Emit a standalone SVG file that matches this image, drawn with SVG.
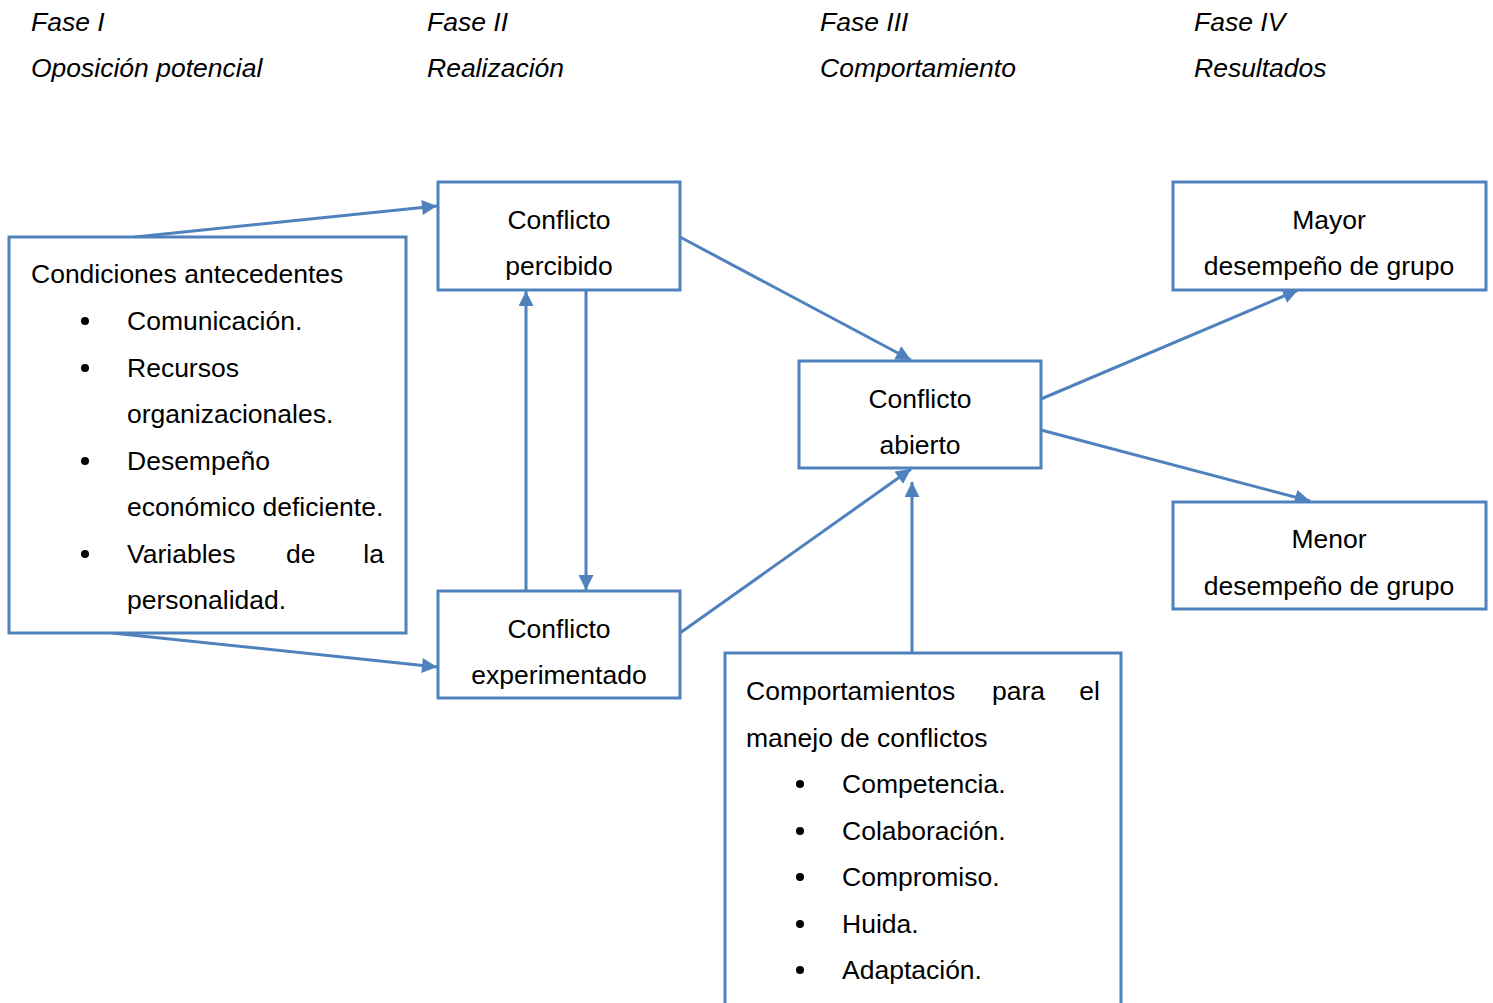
<svg xmlns="http://www.w3.org/2000/svg" width="1493" height="1003" viewBox="0 0 1493 1003">
  <defs>
    <style>
      text { font-family: "Liberation Sans", Arial, sans-serif; font-size: 26.5px; fill: #000; }
      .phase { font-style: italic; }
      .mid { text-anchor: middle; }
      .box { fill: #fff; stroke: #4f81bd; stroke-width: 3; }
      .conn { fill: none; stroke: #4f81bd; stroke-width: 3; }
      .dot { fill: #000; }
    </style>
    <marker id="arrow" viewBox="0 0 10 10" refX="10" refY="5" markerWidth="17" markerHeight="15" markerUnits="userSpaceOnUse" orient="auto">
      <path d="M0,0 L10,5 L0,10 Z" fill="#4f81bd"/>
    </marker>
  </defs>

  <rect width="1493" height="1003" fill="#fff"/>

  <!-- phase headers -->
  <g id="phases">
    <text class="phase" x="31" y="31">Fase I</text>
    <text class="phase" x="31" y="77">Oposición potencial</text>
    <text class="phase" x="427" y="31">Fase II</text>
    <text class="phase" x="427" y="77">Realización</text>
    <text class="phase" x="820" y="31">Fase III</text>
    <text class="phase" x="820" y="77">Comportamiento</text>
    <text class="phase" x="1194" y="31">Fase IV</text>
    <text class="phase" x="1194" y="77">Resultados</text>
  </g>

  <!-- connectors -->
  <g id="connectors">
    <line class="conn" x1="135" y1="237" x2="437" y2="206" marker-end="url(#arrow)"/>
    <line class="conn" x1="112" y1="633" x2="437" y2="667" marker-end="url(#arrow)"/>
    <line class="conn" x1="526" y1="591" x2="526" y2="291" marker-end="url(#arrow)"/>
    <line class="conn" x1="586" y1="290" x2="586" y2="590" marker-end="url(#arrow)"/>
    <line class="conn" x1="680" y1="237" x2="911" y2="360" marker-end="url(#arrow)"/>
    <line class="conn" x1="680" y1="633" x2="911" y2="469" marker-end="url(#arrow)"/>
    <line class="conn" x1="912" y1="653" x2="912" y2="482" marker-end="url(#arrow)"/>
    <line class="conn" x1="1041" y1="399" x2="1298" y2="290" marker-end="url(#arrow)"/>
    <line class="conn" x1="1041" y1="430" x2="1310" y2="501" marker-end="url(#arrow)"/>
  </g>

  <!-- antecedent conditions -->
  <g id="condiciones">
    <rect class="box" x="9" y="237" width="397" height="396"/>
    <text x="31" y="283">Condiciones antecedentes</text>
    <circle class="dot" cx="85" cy="321" r="4"/>
    <text x="127" y="330">Comunicación.</text>
    <circle class="dot" cx="85" cy="368" r="4"/>
    <text x="127" y="377">Recursos</text>
    <text x="127" y="423">organizacionales.</text>
    <circle class="dot" cx="85" cy="461" r="4"/>
    <text x="127" y="470">Desempeño</text>
    <text x="127" y="516">económico deficiente.</text>
    <circle class="dot" cx="85" cy="554" r="4"/>
    <text x="127" y="563">Variables</text>
    <text x="286" y="563">de</text>
    <text x="384" y="563" text-anchor="end">la</text>
    <text x="127" y="609">personalidad.</text>
  </g>

  <g id="percibido">
    <rect class="box" x="438" y="182" width="242" height="108"/>
    <text class="mid" x="559" y="229">Conflicto</text>
    <text class="mid" x="559" y="275">percibido</text>
  </g>

  <g id="experimentado">
    <rect class="box" x="438" y="591" width="242" height="107"/>
    <text class="mid" x="559" y="638">Conflicto</text>
    <text class="mid" x="559" y="684">experimentado</text>
  </g>

  <g id="abierto">
    <rect class="box" x="799" y="361" width="242" height="107"/>
    <text class="mid" x="920" y="408">Conflicto</text>
    <text class="mid" x="920" y="454">abierto</text>
  </g>

  <g id="mayor">
    <rect class="box" x="1173" y="182" width="313" height="108"/>
    <text class="mid" x="1329" y="229">Mayor</text>
    <text class="mid" x="1329" y="275">desempeño de grupo</text>
  </g>

  <g id="menor">
    <rect class="box" x="1173" y="502" width="313" height="107"/>
    <text class="mid" x="1329" y="548">Menor</text>
    <text class="mid" x="1329" y="595">desempeño de grupo</text>
  </g>

  <!-- conflict handling behaviours -->
  <g id="comportamientos">
    <rect class="box" x="725" y="653" width="396" height="360"/>
    <text x="746" y="700">Comportamientos</text>
    <text x="992" y="700">para</text>
    <text x="1100" y="700" text-anchor="end">el</text>
    <text x="746" y="747">manejo de conflictos</text>
    <circle class="dot" cx="800" cy="784" r="4"/>
    <text x="842" y="793">Competencia.</text>
    <circle class="dot" cx="800" cy="831" r="4"/>
    <text x="842" y="840">Colaboración.</text>
    <circle class="dot" cx="800" cy="877" r="4"/>
    <text x="842" y="886">Compromiso.</text>
    <circle class="dot" cx="800" cy="924" r="4"/>
    <text x="842" y="933">Huida.</text>
    <circle class="dot" cx="800" cy="970" r="4"/>
    <text x="842" y="979">Adaptación.</text>
  </g>
</svg>
